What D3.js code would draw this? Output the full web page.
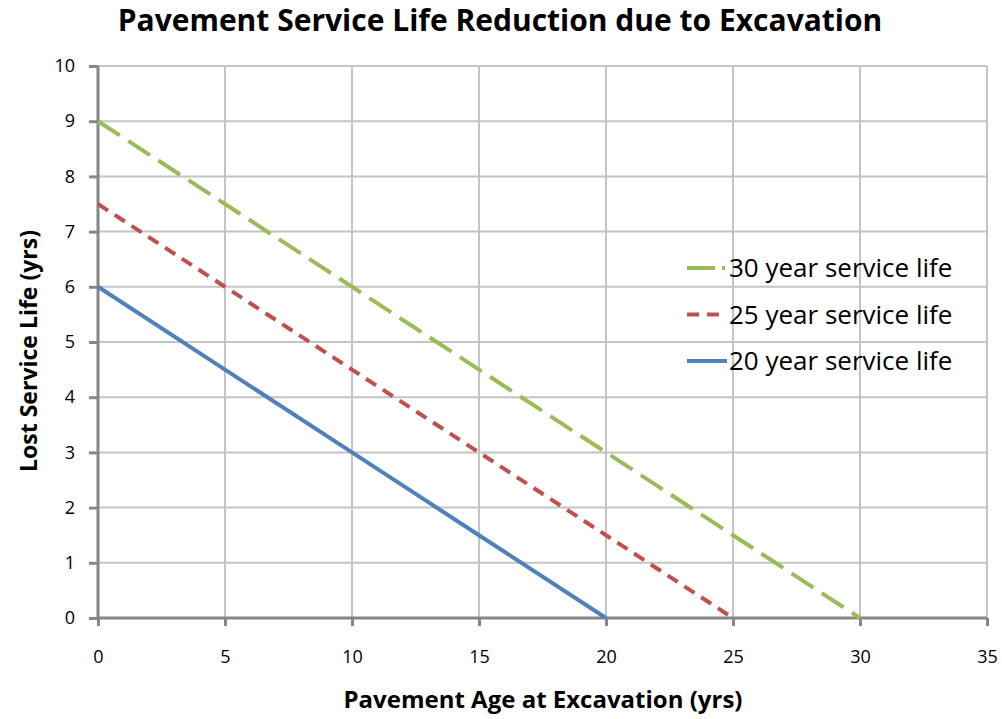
<!DOCTYPE html>
<html>
<head>
<meta charset="utf-8">
<script src="https://cdn.jsdelivr.net/npm/d3@7"></script>
<style>
  body { margin: 0; background: #fff; }
  svg text { font-family: "Open Sans", "Noto Sans", sans-serif; fill: #000; }
</style>
</head>
<body>
<div id="chart"></div>
<script>
// chart data
var ages = [0, 5, 10, 15, 20, 25, 30];
var life30 = [9, 7.5, 6, 4.5, 3, 1.5, 0];
var life25 = [7.5, 6, 4.5, 3, 1.5, 0];
var life20 = [6, 4.5, 3, 1.5, 0];
var xTicks = [0, 5, 10, 15, 20, 25, 30, 35];
var yTicks = [0, 1, 2, 3, 4, 5, 6, 7, 8, 9, 10];
var seriesNames = ['30 year service life', '25 year service life', '20 year service life'];

var width = 1002, height = 719;
var margin = { top: 66, right: 15, bottom: 101, left: 98 };

var svg = d3.select('#chart').append('svg')
	.attr('width', width)
	.attr('height', height);

var x = d3.scaleLinear().domain([0, 35]).range([margin.left, width - margin.right]);
var y = d3.scaleLinear().domain([0, 10]).range([height - margin.bottom, margin.top]);

// gridlines
svg.append('g').selectAll('line.vg')
	.data(xTicks.slice(1))
	.enter().append('line')
	.attr('x1', function (d) { return x(d); })
	.attr('x2', function (d) { return x(d); })
	.attr('y1', y(0)).attr('y2', y(10))
	.attr('stroke', '#c4c4c4').attr('stroke-width', 2);

svg.append('g').selectAll('line.hg')
	.data(yTicks.slice(1))
	.enter().append('line')
	.attr('x1', x(0)).attr('x2', x(35))
	.attr('y1', function (d) { return y(d); })
	.attr('y2', function (d) { return y(d); })
	.attr('stroke', '#c4c4c4').attr('stroke-width', 2);

// axes
var xAxis = d3.axisBottom(x).tickValues(xTicks).tickSize(8).tickPadding(24);
var yAxis = d3.axisLeft(y).tickValues(yTicks).tickSize(9).tickPadding(14);

var gx = svg.append('g').attr('transform', 'translate(0,' + y(0) + ')').call(xAxis);
var gy = svg.append('g').attr('transform', 'translate(' + x(0) + ',0)').call(yAxis);

[gx, gy].forEach(function (g) {
	g.select('.domain').attr('stroke', '#868686').attr('stroke-width', 3);
	g.selectAll('.tick line').attr('stroke', '#868686').attr('stroke-width', 3);
	g.selectAll('.tick text').style('font-size', '18px').attr('fill', '#000');
});
gy.select('.domain').attr('d', 'M0,' + y(0) + 'V' + y(10));
gx.select('.domain').attr('d', 'M' + x(0) + ',0H' + x(35));

// series lines
var series = [
	{ vals: life30, color: '#9bbb59', dash: '26,10' },
	{ vals: life25, color: '#c0504d', dash: '12,8' },
	{ vals: life20, color: '#4f81bd', dash: null }
];

var line = d3.line()
	.x(function (d) { return x(d[0]); })
	.y(function (d) { return y(d[1]); });

series.forEach(function (s) {
	var pts = s.vals.map(function (v, i) { return [ages[i], v]; });
	svg.append('path')
		.datum(pts)
		.attr('d', line)
		.attr('fill', 'none')
		.attr('stroke', s.color)
		.attr('stroke-width', 4)
		.attr('stroke-dasharray', s.dash);
});

// legend
var legend = svg.append('g').attr('transform', 'translate(687,268)');
series.forEach(function (s, i) {
	var row = legend.append('g').attr('transform', 'translate(0,' + (i * 46.5) + ')');
	row.append('line')
		.attr('x1', 0).attr('x2', 40)
		.attr('stroke', s.color)
		.attr('stroke-width', 4)
		.attr('stroke-dasharray', i === 0 ? '28,7,3,10' : (i === 1 ? '12,8' : null));
	row.append('text')
		.attr('x', 42).attr('y', 0)
		.attr('dy', '0.35em')
		.style('font-size', '26px')
		.attr('fill', '#000')
		.text(seriesNames[i]);
});

// title and axis titles
svg.append('text')
	.attr('x', 500).attr('y', 31)
	.attr('text-anchor', 'middle')
	.style('font-size', '30px').style('font-weight', 'bold')
	.text('Pavement Service Life Reduction due to Excavation');

svg.append('text')
	.attr('x', 543).attr('y', 708)
	.attr('text-anchor', 'middle')
	.style('font-size', '24px').style('font-weight', 'bold')
	.text('Pavement Age at Excavation (yrs)');

svg.append('text')
	.attr('transform', 'translate(37,351) rotate(-90)')
	.attr('text-anchor', 'middle')
	.style('font-size', '23px').style('font-weight', 'bold')
	.text('Lost Service Life (yrs)');
</script>
</body>
</html>
